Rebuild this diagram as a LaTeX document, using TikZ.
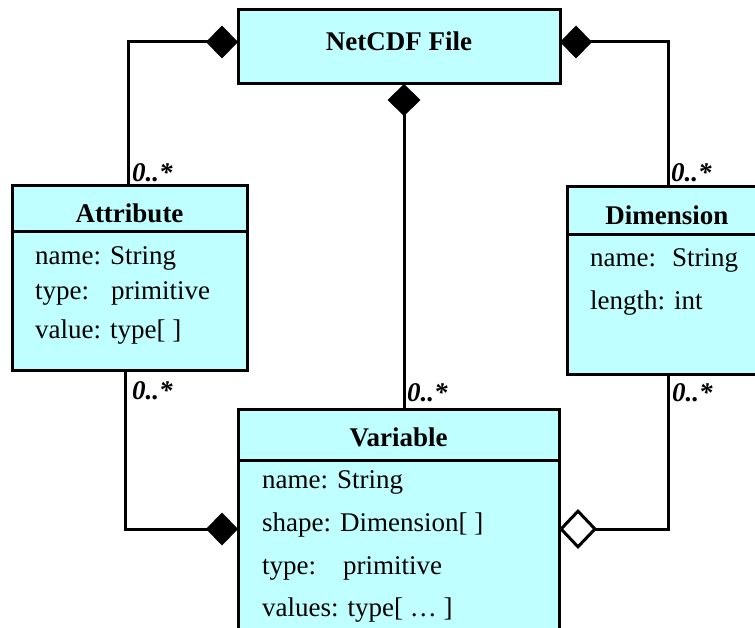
\documentclass[tikz,border=0pt]{standalone}
\usepackage{fontspec}
\setmainfont{Liberation Serif}
\usetikzlibrary{arrows.meta}
\definecolor{umlfill}{RGB}{192,255,255}
\tikzset{
  umlbox/.style={draw=black, fill=umlfill, line width=3pt, rectangle, inner sep=0pt, outer sep=0pt, anchor=north west},
  titletext/.style={font=\fontsize{27}{30}\selectfont\bfseries, inner sep=0pt},
  attrtext/.style={font=\fontsize{27}{30}\selectfont, inner sep=0pt, anchor=west, text height=18pt, text depth=6pt},
  mult/.style={font=\fontsize{27}{30}\selectfont\bfseries\itshape, inner sep=0pt, anchor=west},
  conn/.style={draw=black, line width=3pt, line join=miter},
  comp/.style={conn, {Diamond[length=32pt,width=33pt]}-},
  aggr/.style={conn, {Diamond[length=38pt,width=40pt,fill=white]}-},
}
\begin{document}
\begin{tikzpicture}[x=1pt,y=-1pt]
\useasboundingbox (0,0) rectangle (755,628);
\clip (0,0) rectangle (755,628);

% NetCDF File
\node[umlbox, minimum width=322pt, minimum height=74pt] (net) at (238,10) {};
\node[titletext] (nett) at (399,41) {NetCDF File};

% Attribute
\node[umlbox, minimum width=235pt, minimum height=46pt] (atth) at (12,186) {};
\node[umlbox, minimum width=235pt, minimum height=138pt] (attb) at (12,232) {};
\node[titletext] (attt) at (129.5,213) {Attribute};
\node[attrtext] (att1) at (35,259) {name: String};
\node[attrtext] (att2) at (35,294) {type:\hspace{22pt}primitive};
\node[attrtext] (att3) at (35,332) {value: type[ ]};

% Dimension
\node[umlbox, minimum width=200pt, minimum height=48pt] (dimh) at (567,187) {};
\node[umlbox, minimum width=200pt, minimum height=139pt] (dimb) at (567,235) {};
\node[titletext] (dimt) at (667,215) {Dimension};
\node[attrtext] (dim1) at (590,261) {name:\hspace{16pt}String};
\node[attrtext] (dim2) at (590,303) {length: int};

% Variable
\node[umlbox, minimum width=321pt, minimum height=51pt] (varh) at (238,409) {};
\node[umlbox, minimum width=321pt, minimum height=200pt] (varb) at (238,460) {};
\node[titletext] (vart) at (398.5,437) {Variable};
\node[attrtext] (var1) at (262,482) {name: String};
\node[attrtext] (var2) at (262,525) {shape: Dimension[ ]};
\node[attrtext] (var3) at (262,568) {type:\hspace{27pt}primitive};
\node[attrtext] (var4) at (262,610) {values: type[ … ]};

% bend points
\coordinate (cTL) at (128,42);
\coordinate (cTR) at (668,42);
\coordinate (cTM) at (404,84);
\coordinate (cBL) at (125,529);
\coordinate (cBR) at (668,529);

% connectors
\draw[comp] (net.west |- cTL) -- (cTL) -- (atth.north -| cTL);
\draw[comp] (net.east |- cTR) -- (cTR) -- (dimh.north -| cTR);
\draw[comp] (net.south -| cTM) -- (varh.north -| cTM);
\draw[comp] (varb.west |- cBL) -- (cBL) -- (attb.south -| cBL);
\draw[aggr] (varb.east |- cBR) -- (cBR) -- (dimb.south -| cBR);

% multiplicities
\node[mult] (m1) at (132,173) {0..*};
\node[mult] (m2) at (671,173) {0..*};
\node[mult] (m3) at (407,393) {0..*};
\node[mult] (m4) at (132,391) {0..*};
\node[mult] (m5) at (672,393) {0..*};
\end{tikzpicture}
\end{document}
